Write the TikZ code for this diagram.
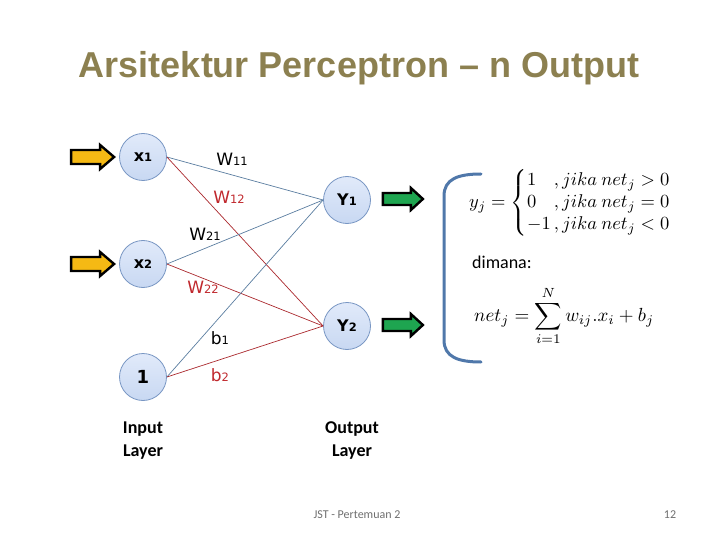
\documentclass[tikz,border=0pt]{standalone}
\usepackage[no-math]{fontspec}
\setmainfont{Carlito}
\newfontfamily\dvs{DejaVu Sans}
\newfontfamily\lib{Liberation Sans}
\usetikzlibrary{calc}
\definecolor{titlecol}{RGB}{140,128,80}
\definecolor{nodefill}{RGB}{200,216,242}
\definecolor{nodetop}{RGB}{225,234,250}
\definecolor{nodeline}{RGB}{120,150,195}
\definecolor{blueedge}{RGB}{90,125,160}
\definecolor{rededge}{RGB}{170,40,45}
\definecolor{redlab}{RGB}{192,40,45}
\definecolor{yelarrow}{RGB}{245,185,20}
\definecolor{grnarrow}{RGB}{30,165,80}
\definecolor{brackcol}{RGB}{80,120,170}
\definecolor{footcol}{RGB}{110,110,110}
\tikzset{
  neuron/.style={circle, draw=nodeline, line width=0.8pt, top color=nodetop, bottom color=nodefill, minimum size=47pt, inner sep=0pt, font=\dvs\bfseries\fontsize{16}{16}\selectfont},
  bedge/.style={draw=blueedge, line width=0.7pt},
  redge/.style={draw=rededge, line width=0.7pt},
  wlab/.style={font=\dvs\fontsize{17}{17}\selectfont, inner sep=0pt},
  yarr/.style={draw=black, line width=2.4pt, fill=yelarrow, line join=miter},
  garr/.style={draw=black, line width=2.4pt, fill=grnarrow, line join=miter},
  layerlab/.style={font=\bfseries\fontsize{18}{23}\selectfont, align=center, inner sep=0pt},
}
\newcommand{\sbs}[1]{{\fontsize{11.5}{11.5}\selectfont #1}}
\begin{document}
\begin{tikzpicture}[x=1pt,y=-1pt]
\useasboundingbox (0,0) rectangle (720,540);
% title
\node[font=\lib\bfseries\fontsize{36}{36}\selectfont, text=titlecol, inner sep=0pt] (title) at (359,68) {Arsitektur Perceptron – n Output};
% neurons
\node[neuron] (x1) at (143,157) {x\sbs{1}};
\node[neuron] (x2) at (143,264) {x\sbs{2}};
\node[neuron, font=\dvs\bfseries\fontsize{18}{18}\selectfont] (b) at (143,377) {1};
\node[neuron] (y1) at (347,200) {Y\sbs{1}};
\node[neuron] (y2) at (347,326) {Y\sbs{2}};
% edges
\draw[bedge] (x1.east) -- (y1.west);
\draw[redge] (x1.east) -- (y2.west);
\draw[bedge] (x2.east) -- (y1.west);
\draw[redge] (x2.east) -- (y2.west);
\draw[bedge] (b.east) -- (y1.west);
\draw[redge] (b.east) -- (y2.west);
% weight labels
\node[wlab] (w11) at (232,159) {W\sbs{11}};
\node[wlab, text=redlab] (w12) at (229,197) {W\sbs{12}};
\node[wlab] (w21) at (205,234) {W\sbs{21}};
\node[wlab, text=redlab] (w22) at (203,287) {W\sbs{22}};
\node[wlab] (b1) at (220,338) {b\sbs{1}};
\node[wlab, text=redlab] (b2) at (220,375) {b\sbs{2}};
% input arrows
\coordinate (t1) at ($(x1.west)+(-5,0)$);
\coordinate (t2) at ($(x2.west)+(-5,0)$);
\draw[yarr] (t1) -- ++(-14,-12) -- ++(0,5) -- ++(-29,0) -- ++(0,14) -- ++(29,0) -- ++(0,5) -- cycle;
\draw[yarr] (t2) -- ++(-14,-12) -- ++(0,5) -- ++(-29,0) -- ++(0,14) -- ++(29,0) -- ++(0,5) -- cycle;
% output arrows
\coordinate (o1) at ($(y1.east)+(52,-1)$);
\coordinate (o2) at ($(y2.east)+(52,-1)$);
\draw[garr] (o1) -- ++(-12,-11) -- ++(0,5) -- ++(-28,0) -- ++(0,12) -- ++(28,0) -- ++(0,5) -- cycle;
\draw[garr] (o2) -- ++(-12,-11) -- ++(0,5) -- ++(-28,0) -- ++(0,12) -- ++(28,0) -- ++(0,5) -- cycle;
% bracket
\coordinate (bt) at (481,174);
\coordinate (bb) at (481,362);
\draw[brackcol, line width=3pt, line cap=round] (bt) .. controls (458,174) and (444,179) .. (444,196) -- (444,340) .. controls (444,357) and (458,362) .. (bb);
% equations
\node[anchor=west, inner sep=0pt] (eq1) at (469,203)
  {\scalebox{1.85}{$y_j=\left\{\begin{array}{@{}l@{\,}l@{}}1 & ,jika\ net_j>0\\ 0 & ,jika\ net_j=0\\ -1 & ,jika\ net_j<0\end{array}\right.$}};
\node[anchor=west, inner sep=0pt, font=\fontsize{18}{18}\selectfont] (dim) at (472,262) {dimana:};
\node[anchor=west, inner sep=0pt] (eq2) at (474,316)
  {\scalebox{1.9}{$\displaystyle net_j=\sum_{i=1}^{N} w_{ij}.x_i+b_j$}};
% layer labels
\node[layerlab] (inl) at (143,441) {Input\\Layer};
\node[layerlab] (outl) at (352,441) {Output\\Layer};
% footer
\node[font=\fontsize{12}{12}\selectfont, text=footcol] (foot) at (357,515) {JST - Pertemuan 2};
\node[font=\fontsize{12}{12}\selectfont, text=footcol] (pg) at (670,515) {12};
\end{tikzpicture}
\end{document}
